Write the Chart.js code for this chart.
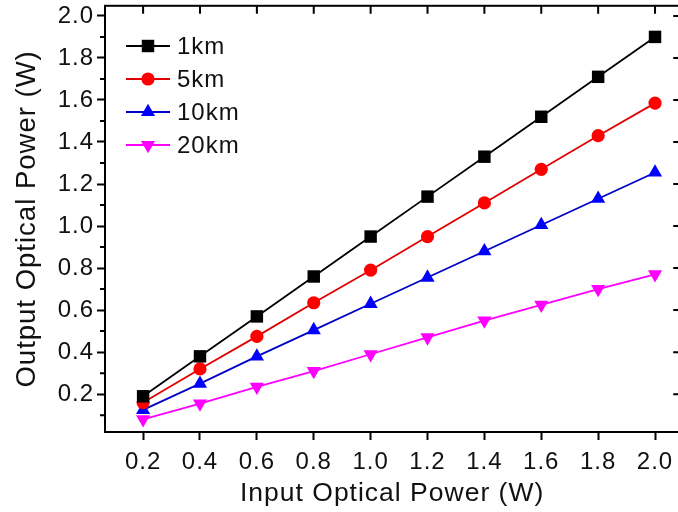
<!DOCTYPE html>
<html><head><meta charset="utf-8">
<script src="https://cdn.jsdelivr.net/npm/chart.js@4.4.1/dist/chart.umd.min.js"></script>
<style>html,body{margin:0;padding:0;overflow:hidden;background:#fff}#wrap{width:678px;height:512px;overflow:hidden}#c{display:block;margin-top:-3px}</style>
</head><body><div id="wrap"><canvas id="c" width="688" height="515"></canvas></div>
<script>
const xValues = [0.2, 0.4, 0.6, 0.8, 1.0, 1.2, 1.4, 1.6, 1.8, 2.0];
const series1km  = [0.19, 0.38, 0.57, 0.76, 0.95, 1.14, 1.33, 1.52, 1.71, 1.90];
const series5km  = [0.16, 0.32, 0.475, 0.635, 0.79, 0.95, 1.11, 1.27, 1.43, 1.585];
const series10km = [0.125, 0.25, 0.38, 0.505, 0.63, 0.755, 0.88, 1.005, 1.13, 1.255];
const series20km = [0.08, 0.155, 0.235, 0.31, 0.39, 0.47, 0.55, 0.625, 0.70, 0.77];
const seriesLabels = ['1km', '5km', '10km', '20km'];
const xTicks = [0.2, 0.4, 0.6, 0.8, 1.0, 1.2, 1.4, 1.6, 1.8, 2.0];
const yTicks = [0.2, 0.4, 0.6, 0.8, 1.0, 1.2, 1.4, 1.6, 1.8, 2.0];
const yMinorTicks = [0.1, 0.3, 0.5, 0.7, 0.9, 1.1, 1.3, 1.5, 1.7, 1.9];
const xTitle = 'Input Optical Power (W)';
const yTitle = 'Output Optical Power (W)';

const FONT = 'Arial, "Liberation Sans", sans-serif';
const styles = [
  {line:'#000000', fill:'#000000', style:'rect', r:8.8, rot:0},
  {line:'#e00000', fill:'#ff0000', style:'circle', r:6.6, rot:0},
  {line:'#0000c8', fill:'#0000ff', style:'triangle', r:8.2, rot:0},
  {line:'#ff00ff', fill:'#ff00ff', style:'triangle', r:8.2, rot:180}
];
const allSeries = [series1km, series5km, series10km, series20km];
const datasets = allSeries.map((s, i) => ({
  label: seriesLabels[i],
  data: xValues.map((x, j) => ({x: x, y: s[j]})),
  borderColor: styles[i].line,
  backgroundColor: styles[i].fill,
  pointBackgroundColor: styles[i].fill,
  pointBorderColor: styles[i].fill,
  pointStyle: styles[i].style,
  pointRotation: styles[i].rot,
  pointRadius: styles[i].r,
  pointBorderWidth: 0,
  borderWidth: 1.8,
  tension: 0,
  clip: false
}));

const spacingPlugin = {
  id: 'spacing',
  beforeLayout(chart) { chart.ctx.letterSpacing = '1px'; },
  beforeDraw(chart) { chart.ctx.letterSpacing = '1px'; }
};

const framePlugin = {
  id: 'frame',
  afterDraw(chart) {
    const ctx = chart.ctx, a = chart.chartArea;
    const xs = chart.scales.x, ys = chart.scales.y;
    ctx.save();
    ctx.strokeStyle = '#000';
    ctx.lineWidth = 2;
    ctx.strokeRect(a.left, a.top, a.right - a.left, a.bottom - a.top);
    ctx.beginPath();
    yMinorTicks.forEach(v => { const y = ys.getPixelForValue(v); if (y > a.top && y < a.bottom) { ctx.moveTo(a.left - 5, y); ctx.lineTo(a.left, y); } });
    yTicks.forEach(v => { const y = ys.getPixelForValue(v); ctx.moveTo(a.right - 6, y); ctx.lineTo(a.right, y); });
    xTicks.forEach(v => { const x = xs.getPixelForValue(v); ctx.moveTo(x, a.top); ctx.lineTo(x, a.top + 8); });
    ctx.stroke();
    const rows = [49, 82, 115, 148];
    ctx.font = '24px ' + FONT;
    ctx.textBaseline = 'middle';
    chart.data.datasets.forEach((d, i) => {
      const y = rows[i];
      ctx.strokeStyle = d.borderColor; ctx.lineWidth = 1.8;
      ctx.beginPath(); ctx.moveTo(126, y); ctx.lineTo(170, y); ctx.stroke();
      ctx.fillStyle = d.pointBackgroundColor; ctx.strokeStyle = d.pointBackgroundColor;
      Chart.helpers.drawPoint(ctx, {pointStyle: d.pointStyle, rotation: d.pointRotation, radius: d.pointRadius, borderWidth: 0}, 148, y);
      ctx.fillStyle = '#111';
      ctx.fillText(d.label, 177, y + 1);
    });
    ctx.restore();
  }
};

new Chart(document.getElementById('c'), {
  type: 'line',
  data: {datasets: datasets},
  options: {
    responsive: false,
    animation: false,
    layout: {padding: 0},
    plugins: {legend: {display: false}, tooltip: {enabled: false}},
    scales: {
      x: {
        type: 'linear', min: 0.066, max: 2.085,
        afterBuildTicks: s => { s.ticks = xTicks.map(v => ({value: v})); },
        afterFit: s => { s.height = 80; s.paddingLeft = 0; s.paddingRight = 0; },
        ticks: {callback: v => Number(v).toFixed(1), font: {family: FONT, size: 24}, color: '#111', padding: 8, maxRotation: 0, autoSkip: false},
        grid: {drawOnChartArea: false, drawTicks: true, tickLength: 8, tickColor: '#000', tickWidth: 2},
        border: {display: true, color: '#000', width: 2},
        title: {display: true, text: xTitle, font: {family: FONT, size: 26.5}, color: '#111', padding: {top: 0, bottom: 2}}
      },
      y: {
        type: 'linear', min: 0.02, max: 2.048,
        afterBuildTicks: s => { s.ticks = yTicks.map(v => ({value: v})); },
        afterFit: s => { s.width = 105; s.paddingTop = 0; s.paddingBottom = 0; },
        ticks: {callback: v => Number(v).toFixed(1), font: {family: FONT, size: 24}, color: '#111', padding: 3, autoSkip: false},
        grid: {drawOnChartArea: false, drawTicks: true, tickLength: 8, tickColor: '#000', tickWidth: 2},
        border: {display: true, color: '#000', width: 2},
        title: {display: true, text: yTitle, font: {family: FONT, size: 27.5}, color: '#111', padding: {top: 11, bottom: 0}}
      }
    }
  },
  plugins: [spacingPlugin, framePlugin]
});
</script>
</body></html>
